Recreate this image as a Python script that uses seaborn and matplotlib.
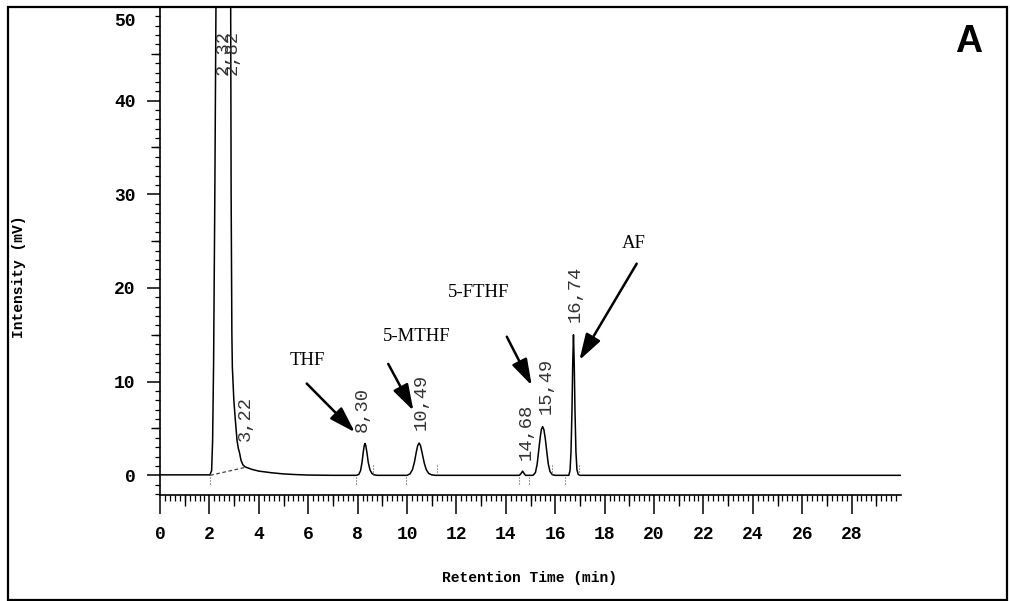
import numpy as np
import pandas as pd
import matplotlib
matplotlib.use('Agg')
import matplotlib.pyplot as plt
import seaborn as sns
from matplotlib.patches import Rectangle
from matplotlib.transforms import ScaledTranslation

# chromatogram trace (min, mV)
trace_time = [0.0, 1.0, 2.02, 2.09, 2.13, 2.17, 2.22, 2.27, 2.32, 2.57, 2.82,
              2.86, 2.88, 2.91, 2.93, 2.99, 3.05, 3.12, 3.17, 3.22, 3.28, 3.36,
              3.45, 3.7, 4.0, 4.5, 5.0, 5.5, 6.0, 7.0,
              7.95, 8.05, 8.12, 8.18, 8.23, 8.27, 8.30, 8.33, 8.38, 8.43, 8.50,
              8.58, 8.68, 8.80,
              10.0, 10.12, 10.22, 10.30, 10.37, 10.43, 10.49, 10.55, 10.62,
              10.70, 10.78, 10.88, 11.0, 11.15,
              14.55, 14.62, 14.68, 14.74, 14.80,
              15.10, 15.20, 15.27, 15.33, 15.39, 15.44, 15.49, 15.54, 15.60,
              15.66, 15.72, 15.79, 15.88, 16.0,
              16.55, 16.60, 16.64, 16.68, 16.71, 16.74, 16.77, 16.80, 16.84,
              16.88, 16.93, 17.0, 30.0]
trace_mv = [0.05, 0.05, 0.05, 0.5, 3.7, 12.0, 30.0, 52.0, 62.0, 58.0, 64.0,
            52.0, 30.0, 15.0, 11.5, 8.0, 5.9, 3.7, 2.9, 2.4, 1.6, 1.1,
            0.9, 0.65, 0.45, 0.28, 0.15, 0.08, 0.03, 0.0,
            0.0, 0.1, 0.5, 1.4, 2.5, 3.2, 3.4, 3.2, 2.4, 1.4, 0.6,
            0.2, 0.05, 0.0,
            0.0, 0.15, 0.6, 1.4, 2.4, 3.15, 3.45, 3.15, 2.3,
            1.3, 0.6, 0.2, 0.05, 0.0,
            0.0, 0.2, 0.45, 0.2, 0.0,
            0.0, 0.3, 1.2, 2.6, 4.0, 4.9, 5.2, 4.9, 3.9,
            2.5, 1.2, 0.4, 0.08, 0.0,
            0.0, 0.5, 2.5, 7.0, 12.0, 15.0, 12.0, 7.0, 2.5,
            0.6, 0.1, 0.0, 0.0]

# integration marks
marks_below = [2.03, 7.95, 9.95, 14.55, 14.93, 16.38]
marks_above = [8.62, 11.2, 15.88, 16.95]
baseline_time = [2.03, 3.45]
baseline_mv = [0.0, 0.85]

peak_labels = ['2,32', '2,82', '3,22', '8,30', '10,49', '14,68', '15,49', '16,74']
compounds = ['THF', '5-MTHF', '5-FTHF', 'AF']

df = pd.DataFrame({'time': trace_time, 'mv': trace_mv})

sns.set_theme(style='ticks')
plt.rcParams['font.family'] = ['Liberation Mono', 'DejaVu Sans Mono']
plt.rcParams['text.color'] = 'black'
plt.rcParams['axes.labelcolor'] = 'black'
plt.rcParams['xtick.color'] = 'black'
plt.rcParams['ytick.color'] = 'black'

fig = plt.figure(figsize=(10.10, 6.01), dpi=100)
ax = fig.add_axes([160 / 1010, 106 / 601, 741 / 1010, 488 / 601])

sns.lineplot(data=df, x='time', y='mv', ax=ax, color='black', lw=1.1,
             sort=False, estimator=None)
ax.plot(baseline_time, baseline_mv, color='#444444', lw=0.9, ls=(0, (3, 2)))
ax.vlines(marks_below, -0.9, 0, color='#555555', lw=0.8, ls=':')
ax.vlines(marks_above, 0, 1.2, color='#555555', lw=0.8, ls=':')

ax.set_xlim(0, 30)
ax.set_ylim(-2.1, 50)
sns.despine(ax=ax, top=True, right=True)
for s in ['left', 'bottom']:
    ax.spines[s].set_linewidth(1.2)
    ax.spines[s].set_color('black')

# ruler-like ticks
ax.set_xticks(range(0, 29, 2))
ax.set_xticks(np.arange(0, 30, 0.2), minor=True)
ax.set_yticks(range(0, 51, 10))
ax.set_yticks(range(-2, 51), minor=True)
ax.tick_params(axis='x', which='major', length=14, width=1.1, pad=8,
               labelsize=13, labelcolor='black')
ax.tick_params(axis='x', which='minor', length=4.3, width=0.9)
ax.tick_params(axis='y', which='major', length=9.5, width=1.1, pad=8,
               labelsize=13, labelcolor='black')
ax.tick_params(axis='y', which='minor', length=3.5, width=0.9)
for lbl in ax.get_xticklabels() + ax.get_yticklabels():
    lbl.set_fontweight('bold')
top_lbl = ax.get_yticklabels()[-1]
top_lbl.set_transform(top_lbl.get_transform() +
                      ScaledTranslation(0, -13 / 100, fig.dpi_scale_trans))

# medium ticks at odd minutes and at 5 mV steps
sx = ax.secondary_xaxis('bottom')
sx.set_xticks(range(1, 30, 2))
sx.tick_params(length=8, width=1.0, labelbottom=False)
sx.spines['bottom'].set_visible(False)
sy = ax.secondary_yaxis('left')
sy.set_yticks(range(5, 50, 10))
sy.tick_params(length=6.5, width=1.0, labelleft=False)
sy.spines['left'].set_visible(False)

ax.set_xlabel('Retention Time (min)', fontsize=10.5, fontweight='bold')
ax.set_ylabel('Intensity (mV)', fontsize=10.5, fontweight='bold')
ax.xaxis.set_label_coords(0.498, -0.156)
ax.yaxis.set_label_coords(-0.181, 0.447)

# retention time labels
label_pos = [(2.55, 42.7), (2.92, 42.7), (3.44, 3.7), (8.17, 4.6),
             (10.59, 4.8), (14.81, 1.6), (15.62, 6.6), (16.8, 16.4)]
for txt, (x, y) in zip(peak_labels, label_pos):
    ax.text(x, y, txt, rotation=90, ha='center', va='bottom', fontsize=13.5,
            color='#333333', fontweight='light')

# compound names with arrows
name_pos = [(5.95, 12.3), (10.4, 14.8), (12.9, 19.5), (19.2, 24.8)]
arrow_tail = [(5.94, 9.8), (9.24, 11.9), (14.04, 14.8), (19.3, 22.6)]
arrow_tip = [(7.89, 4.6), (10.26, 6.9), (15.05, 9.6), (16.98, 12.3)]
for name, pos, tail, tip in zip(compounds, name_pos, arrow_tail, arrow_tip):
    ax.text(pos[0], pos[1], name, ha='center', va='center', fontsize=13.5,
            family='Liberation Serif', color='black')
    ax.annotate('', xy=tip, xytext=tail,
                arrowprops=dict(arrowstyle='-|>,head_length=1.6,head_width=0.5',
                                lw=1.8, color='black', shrinkA=0, shrinkB=0,
                                mutation_scale=10))

fig.text(969 / 1010, 1 - 42 / 601, 'A', ha='center', va='center', fontsize=27,
         fontweight='bold', family='Liberation Sans', color='black')

fig.add_artist(Rectangle((8 / 1010, 1 / 601), 999 / 1010, 593 / 601,
                         transform=fig.transFigure, fill=False, lw=1.6,
                         ec='black'))

fig.savefig('out.png', dpi=100)
